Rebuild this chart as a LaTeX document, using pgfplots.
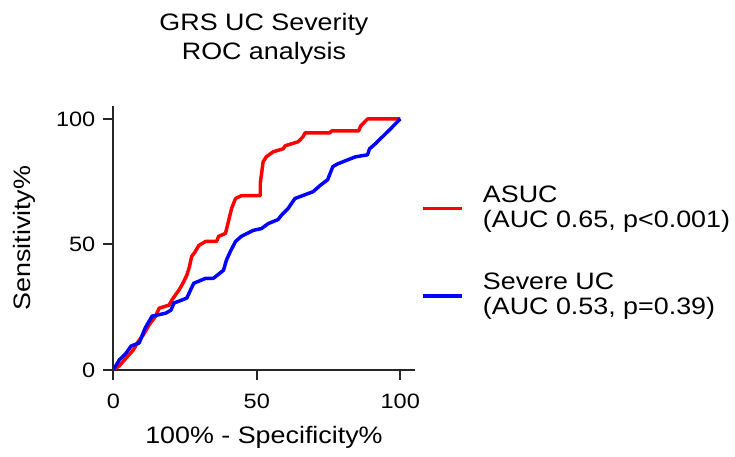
\documentclass[border=0pt]{standalone}
\usepackage{fontspec}
\setmainfont[FakeStretch=1.13]{Liberation Sans}
\usepackage{pgfplots}
\pgfplotsset{compat=1.18}

% ROC curve of the GRS for acute severe UC
\pgfplotstableread{
x y
0 0
2 1.5
3.5 3.5
5.5 6
7 8
8.5 11
10.5 14
12.5 18
14.5 21
16 24.6
19.4 25.8
20.5 28
22.8 31.7
24 34
25.6 37.7
26.5 41
27.3 45.2
28.5 47
29.8 49.6
32.2 51.2
36 51.2
36.7 53.2
39.1 54.4
40.1 59.1
41.2 64.3
42.6 68.3
44.6 69.4
51.2 69.4
51.2 74.2
52.2 82.9
53.3 84.9
55.7 86.9
59.2 88.1
59.9 89.3
64.4 90.9
66.1 92.9
66.8 94.4
75.4 94.4
76 95.2
85.5 95.2
86.2 97.2
88.6 100
100 100
}\asuc

% ROC curve of the GRS for severe UC
\pgfplotstableread{
x y
0 0
2.1 4
4.2 6.3
6.2 9.5
9 10.7
11.1 16.7
13.5 21.4
18.3 22.6
20.1 23.8
21.1 26.6
25.6 28.6
28 34.5
32.2 36.5
34.9 36.5
38.4 39.7
39.4 43.7
40.8 47.2
42.6 51.2
44.6 53.2
48.8 55.6
51.6 56.3
54 58.3
57.4 59.9
58.5 61.5
60.9 64.3
63.3 68.3
66.8 69.8
69.6 71
72 73.4
74.7 75.8
76.5 81
78.2 82.1
81.7 83.7
84.4 84.9
88.6 85.7
89.3 88.1
91.3 90.1
93.8 92.9
96.2 95.6
100 100
}\severe

\begin{document}
\fontsize{24}{26}\selectfont
\begin{tikzpicture}
\begin{axis}[
  scale only axis,
  width=303bp, height=265bp,
  xmin=0, xmax=105, ymin=0, ymax=105,
  axis x line*=bottom, axis y line*=left,
  axis line style={line width=2bp, black!85},
  xtick={0,50,100}, ytick={0,50,100},
  tick align=outside,
  major tick length=10bp,
  tick style={line width=2bp, black!85},
  /pgf/number format/assume math mode=true,
  ticklabel style={font=\fontsize{21}{24}\selectfont},
  xticklabel style={yshift=-6bp},
  xlabel={100\% - Specificity\%},
  ylabel={Sensitivity\%},
  every axis x label/.style={at={(axis description cs:0.5,-0.255)}, anchor=center},
  every axis y label/.style={at={(axis description cs:-0.294,0.5)}, rotate=90, anchor=center},
  title={GRS UC Severity\\ROC analysis},
  title style={align=center, font=\fontsize{24}{29}\selectfont,
    at={(axis description cs:0.5,1)}, anchor=north, yshift=96bp},
  legend cell align=left,
  legend style={draw=none, fill=none,
    at={(axis description cs:1.01,0.714)}, anchor=north west,
    nodes={align=left, font=\fontsize{24}{25.5}\selectfont},
    column sep=17bp, row sep=38bp},
  legend image code/.code={\draw[#1] (0bp,0bp) -- (40bp,0bp);},
]
\addplot[red, line width=3.5bp, line join=round] table {\asuc};
\addlegendentry{ASUC\\(AUC 0.65, p<0.001)}
\addplot[blue, line width=3.5bp, line join=round] table {\severe};
\addlegendentry{Severe UC\\(AUC 0.53, p=0.39)}
\end{axis}
\path[use as bounding box] (-114bp,-84bp) rectangle (621bp,372bp);
\end{tikzpicture}
\end{document}
